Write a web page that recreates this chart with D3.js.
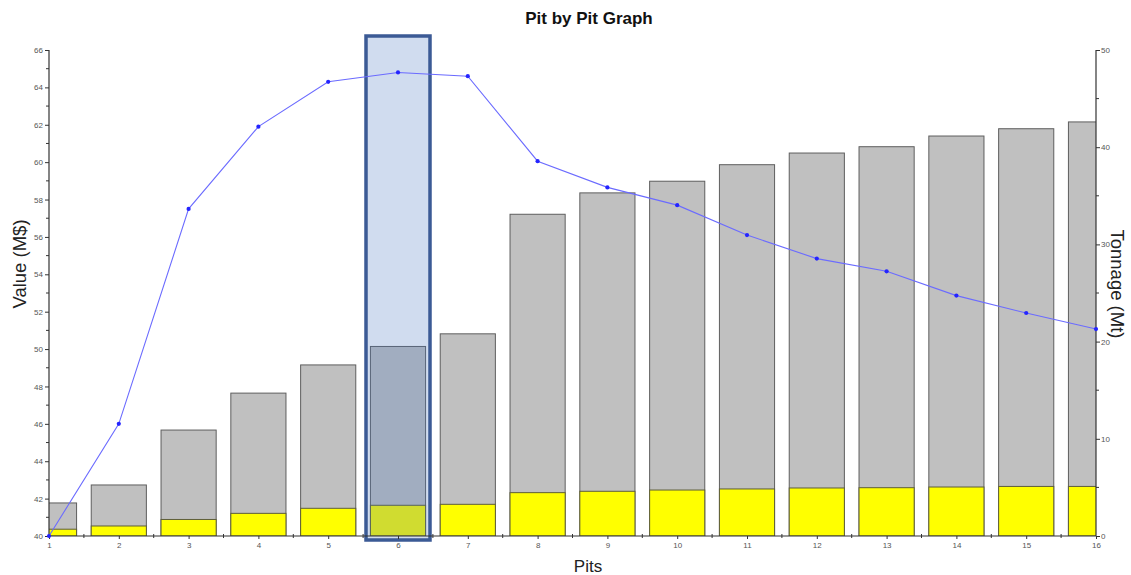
<!DOCTYPE html>
<html><head><meta charset="utf-8">
<script src="https://cdn.jsdelivr.net/npm/d3@7"></script>
<style>
body{margin:0;background:#fff;}
svg{display:block;font-family:"Liberation Sans",Arial,sans-serif;}
</style></head>
<body><svg id="chart" width="1131" height="575"></svg>
<script>
const pits = [1,2,3,4,5,6,7,8,9,10,11,12,13,14,15,16];
const totalTonnage = [3.4,5.25,10.9,14.7,17.6,19.5,20.8,33.1,35.3,36.5,38.2,39.4,40.05,41.15,41.9,42.6];
const oreTonnage = [0.7,1.03,1.7,2.33,2.85,3.16,3.26,4.46,4.6,4.73,4.84,4.94,4.97,5.04,5.1,5.1];
const pitValue = [40.0,46.0,57.5,61.9,64.3,64.8,64.6,60.05,58.65,57.7,56.1,54.84,54.16,52.86,51.93,51.07];
const leftTicks = [40,42,44,46,48,50,52,54,56,58,60,62,64,66];
const rightTicks = [0,10,20,30,40,50];
const selectedPit = 6;

const svg = d3.select("#chart");
const L = 49, R = 1096, T = 50, B = 536;
const x = d3.scaleLinear().domain([1,16]).range([L,R]);
const yL = d3.scaleLinear().domain([40,66]).range([B,T]);
const yR = d3.scaleLinear().domain([0,50]).range([B,T]);
const step = x(2)-x(1);
const bw = step*0.79;

svg.append("defs").append("clipPath").attr("id","clip")
  .append("rect").attr("x",L).attr("y",T-20).attr("width",R-L).attr("height",B-T+20);

const gBars = svg.append("g").attr("clip-path","url(#clip)");
gBars.selectAll("rect.tot").data(pits).enter().append("rect")
  .attr("x",(d)=>x(d)-bw/2).attr("width",bw)
  .attr("y",(d,i)=>yR(totalTonnage[i])).attr("height",(d,i)=>B-yR(totalTonnage[i]))
  .attr("fill","#c0c0c0").attr("stroke","#5e5e5e").attr("stroke-width",1);
gBars.selectAll("rect.ore").data(pits).enter().append("rect")
  .attr("x",(d)=>x(d)-bw/2).attr("width",bw)
  .attr("y",(d,i)=>yR(oreTonnage[i])).attr("height",(d,i)=>B-yR(oreTonnage[i]))
  .attr("fill","#ffff00").attr("stroke","#5e5e3a").attr("stroke-width",1);

// highlight
const hw = 64;
svg.append("rect").attr("x",x(selectedPit)-hw/2).attr("y",T-14).attr("width",hw).attr("height",B-T+18)
  .attr("fill","rgba(66,117,192,0.25)").attr("stroke","#3b5a95").attr("stroke-width",3.5);

// axes
const axisCol = "#333";
const gl = svg.append("g").attr("transform",`translate(${L},0)`)
  .call(d3.axisLeft(yL).tickValues(leftTicks).tickSize(4).tickPadding(2).tickFormat(d3.format("d")));
gl.append("g").selectAll("line").data(d3.range(41,66,2)).enter().append("line")
  .attr("x1",-3).attr("x2",0).attr("y1",d=>yL(d)).attr("y2",d=>yL(d)).attr("stroke",axisCol);
const gr = svg.append("g").attr("transform",`translate(${R},0)`)
  .call(d3.axisRight(yR).tickValues(rightTicks).tickSize(4).tickPadding(1).tickFormat(d3.format("d")));
gr.append("g").selectAll("line").data([5,15,25,35,45]).enter().append("line")
  .attr("x1",0).attr("x2",3).attr("y1",d=>yR(d)).attr("y2",d=>yR(d)).attr("stroke",axisCol);
const gx = svg.append("g").attr("transform",`translate(0,${B})`)
  .call(d3.axisBottom(x).tickValues(pits).tickSize(3).tickPadding(3).tickFormat(d3.format("d")));
gx.append("g").selectAll("line").data(d3.range(1.5,16,1)).enter().append("line")
  .attr("x1",d=>x(d)).attr("x2",d=>x(d)).attr("y1",-2).attr("y2",2).attr("stroke",axisCol);
[gl,gr,gx].forEach(g=>{
  g.select(".domain").attr("stroke",axisCol).attr("stroke-width",1.2);
  g.selectAll(".tick line").attr("stroke",axisCol);
  g.selectAll(".tick text").attr("fill","#555").style("font-size","8px").style("font-family","Liberation Sans, Arial");
});
gl.select(".domain").attr("d",`M0,${B}V${T}`);
gr.select(".domain").attr("d",`M0,${B}V${T}`);
gx.select(".domain").attr("d",`M${L},0H${R}`);

// line
const line = d3.line().x((d,i)=>x(pits[i])).y(d=>yL(d));
svg.append("path").datum(pitValue).attr("d",line).attr("fill","none")
  .attr("stroke","#6b6bff").attr("stroke-width",1.1);
svg.selectAll("circle.pt").data(pitValue).enter().append("circle")
  .attr("cx",(d,i)=>x(pits[i])).attr("cy",d=>yL(d)).attr("r",2.1).attr("fill","#2424ff");

// titles
svg.append("text").attr("x",589).attr("y",24).attr("text-anchor","middle")
  .style("font-weight","bold").style("font-size","17px").attr("fill","#111").text("Pit by Pit Graph");
svg.append("text").attr("transform",`translate(26,264) rotate(-90)`).attr("text-anchor","middle")
  .style("font-size","18.5px").attr("fill","#222").text("Value (M$)");
svg.append("text").attr("transform",`translate(1111,284) rotate(90)`).attr("text-anchor","middle")
  .style("font-size","18.5px").attr("fill","#222").text("Tonnage (Mt)");
svg.append("text").attr("x",588).attr("y",572).attr("text-anchor","middle")
  .style("font-size","17px").attr("fill","#222").text("Pits");
</script></body></html>
